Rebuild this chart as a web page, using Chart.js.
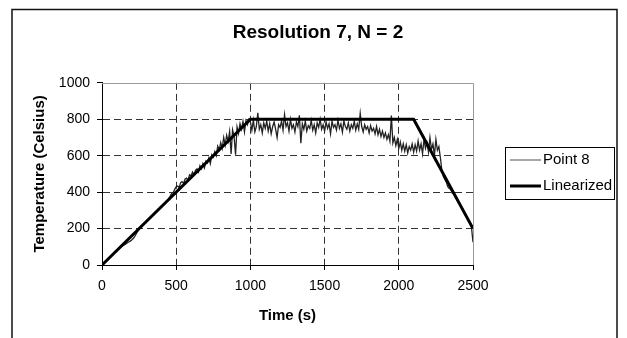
<!DOCTYPE html>
<html>
<head>
<meta charset="utf-8">
<script src="https://cdn.jsdelivr.net/npm/chart.js@4.4.1/dist/chart.umd.min.js"></script>
<style>
  html, body { margin: 0; padding: 0; background: #fff; overflow: hidden; }
  #wrap { width: 627px; height: 338px; }
</style>
</head>
<body>
<div id="wrap"><canvas id="tempChart" width="627" height="338"></canvas></div>
<script>
// ------------------------------------------------------------
// Resolution 7, N = 2 -- measured vs linearized temperature
// ------------------------------------------------------------

const chartTitle = 'Resolution 7, N = 2';
const xTitle = 'Time (s)';
const yTitle = 'Temperature (Celsius)';
const seriesNames = ['Point 8', 'Linearized'];

// x / y axis ticks
const xTickRange = [0, 2500];
const xTickStep = 500;
const yTickRange = [0, 1000];
const yTickStep = 200;

const point8Times = [
    0, 10, 20, 30, 40, 50, 60, 70, 80, 90,
    100, 110, 120, 130, 140, 150, 160, 170, 180, 190,
    200, 210, 220, 230, 240, 250, 260, 270, 280, 290,
    300, 310, 320, 330, 340, 350, 360, 370, 380, 390,
    400, 410, 420, 430, 440, 450, 460, 470, 480, 490,
    500, 510, 520, 530, 540, 550, 560, 570, 580, 590,
    600, 610, 620, 630, 640, 650, 660, 670, 680, 690,
    700, 710, 720, 730, 740, 750, 760, 770, 780, 790,
    800, 810, 820, 830, 840, 850, 860, 870, 880, 890,
    900, 910, 920, 930, 940, 950, 960, 970, 980, 990,
    1000, 1010, 1020, 1030, 1040, 1050, 1060, 1070, 1080, 1090,
    1100, 1110, 1120, 1130, 1140, 1150, 1160, 1170, 1180, 1190,
    1200, 1210, 1220, 1230, 1240, 1250, 1260, 1270, 1280, 1290,
    1300, 1310, 1320, 1330, 1340, 1350, 1360, 1370, 1380, 1390,
    1400, 1410, 1420, 1430, 1440, 1450, 1460, 1470, 1480, 1490,
    1500, 1510, 1520, 1530, 1540, 1550, 1560, 1570, 1580, 1590,
    1600, 1610, 1620, 1630, 1640, 1650, 1660, 1670, 1680, 1690,
    1700, 1710, 1720, 1730, 1740, 1750, 1760, 1770, 1780, 1790,
    1800, 1810, 1820, 1830, 1840, 1850, 1860, 1870, 1880, 1890,
    1900, 1910, 1920, 1930, 1940, 1950, 1960, 1970, 1980, 1990,
    2000, 2010, 2020, 2030, 2040, 2050, 2060, 2070, 2080, 2090,
    2100, 2110, 2120, 2130, 2140, 2150, 2160, 2170, 2180, 2190,
    2200, 2210, 2220, 2230, 2240, 2250, 2260, 2270, 2280, 2290,
    2300, 2310, 2320, 2330, 2340, 2350, 2360, 2370, 2380, 2390,
    2400, 2410, 2420, 2430, 2440, 2450, 2460, 2470, 2480, 2490,
    2500
];
const point8Temps = [
    0, 6, 15, 22, 30, 41, 47, 57, 63, 72,
    80, 86, 94, 100, 106, 110, 116, 121, 126, 131,
    137, 145, 156, 170, 185, 198, 210, 218, 225, 232,
    240, 247, 256, 263, 272, 279, 288, 296, 305, 311,
    322, 330, 335, 345, 352, 365, 378, 394, 398, 415,
    430, 433, 425, 452, 458, 448, 472, 477, 465, 495,
    490, 510, 496, 520, 528, 510, 545, 528, 556, 533,
    570, 560, 588, 556, 605, 592, 622, 600, 652, 632,
    672, 640, 700, 658, 712, 678, 732, 610, 742, 705,
    605, 758, 722, 776, 745, 788, 730, 792, 770, 800,
    785, 740, 795, 730, 760, 835, 745, 770, 725, 780,
    750, 790, 735, 775, 720, 760, 785, 745, 700, 770,
    755, 790, 740, 825, 760, 780, 735, 800, 750, 770,
    730, 785, 760, 822, 668, 775, 745, 790, 735, 765,
    750, 795, 740, 770, 725, 780, 755, 800, 745, 770,
    735, 785, 750, 775, 720, 790, 755, 770, 740, 795,
    750, 775, 730, 790, 760, 745, 780, 735, 770, 750,
    790, 740, 775, 745, 832, 760, 730, 770, 745, 760,
    725, 765, 735, 750, 720, 760, 715, 745, 705, 735,
    700, 725, 690, 715, 680, 820, 670, 700, 655, 690,
    640, 675, 630, 665, 625, 660, 615, 650, 630, 665,
    620, 660, 625, 680, 630, 665, 610, 690, 640, 670,
    620, 700, 635, 665, 600, 690, 630, 650, 590, 520,
    485, 470, 455, 430, 420, 415, 395, 392, 372, 362,
    345, 338, 318, 308, 288, 278, 258, 248, 228, 205,
    125
];

// Linearized profile
const linearTimes = [0, 1000, 2100, 2500];
const linearTemps = [0, 800, 800, 200];

Chart.defaults.font.family = "'Liberation Sans', Arial, sans-serif";
Chart.defaults.color = '#000';

// White page + outer frame, gray top/right plot border
const framePlugin = {
    id: 'frame',
    beforeDraw(chart) {
        const ctx = chart.ctx;
        ctx.save();
        ctx.fillStyle = '#fff';
        ctx.fillRect(0, 0, chart.width, chart.height);
        ctx.strokeStyle = '#111';
        ctx.lineWidth = 1.5;
        ctx.strokeRect(12, 9.5, 605, chart.height + 20);
        ctx.restore();
    },
    beforeDatasetsDraw(chart) {
        const { ctx, chartArea: a } = chart;
        ctx.save();
        ctx.strokeStyle = '#999';
        ctx.lineWidth = 1;
        ctx.beginPath();
        ctx.moveTo(a.left, Math.round(a.top) + 0.5);
        ctx.lineTo(Math.round(a.right) + 0.5, Math.round(a.top) + 0.5);
        ctx.lineTo(Math.round(a.right) + 0.5, a.bottom);
        ctx.stroke();
        ctx.restore();
    }
};

// Boxed legend on the right, like the spreadsheet one
const boxLegendPlugin = {
    id: 'boxLegend',
    afterDraw(chart, args, opts) {
        const ctx = chart.ctx;
        ctx.save();
        ctx.strokeStyle = '#000';
        ctx.lineWidth = 1;
        ctx.strokeRect(opts.x + 0.5, opts.y + 0.5, opts.w, opts.h);
        ctx.font = opts.fontSize + 'px ' + Chart.defaults.font.family;
        ctx.textBaseline = 'middle';
        ctx.fillStyle = '#000';
        opts.order.forEach((dsIndex, row) => {
            const ds = chart.data.datasets[dsIndex];
            const y = opts.y + opts.firstRow + row * opts.rowGap;
            ctx.strokeStyle = ds.legendColor || ds.borderColor;
            ctx.lineWidth = ds.borderWidth;
            ctx.beginPath();
            ctx.moveTo(opts.x + 5, y);
            ctx.lineTo(opts.x + 36, y);
            ctx.stroke();
            ctx.fillText(ds.label, opts.x + 38, y);
        });
        ctx.restore();
    }
};

const gridColor = '#333';

const ctx = document.getElementById('tempChart').getContext('2d');
new Chart(ctx, {
    type: 'line',
    data: {
        datasets: [{
            label: seriesNames[1],
            data: linearTimes.map((t, i) => ({ x: t, y: linearTemps[i] })),
            borderColor: '#000',
            borderWidth: 3,
            pointRadius: 0,
            fill: false,
            tension: 0,
            order: 0
        }, {
            label: seriesNames[0],
            data: point8Times.map((t, i) => ({ x: t, y: point8Temps[i] })),
            borderColor: '#222',
            legendColor: '#777',
            borderWidth: 1.3,
            pointRadius: 0,
            fill: false,
            tension: 0,
            order: 1
        }]
    },
    options: {
        responsive: false,
        animation: false,
        layout: { padding: { left: 12, right: 3, top: 0, bottom: 0 } },
        plugins: {
            legend: { display: false },
            tooltip: { enabled: false },
            title: {
                display: true,
                text: chartTitle,
                color: '#000',
                font: { size: 19, weight: 'bold' },
                padding: { top: 21, bottom: 39 }
            },
            boxLegend: { x: 505, y: 147, w: 109, h: 52, firstRow: 13, rowGap: 26, fontSize: 15, order: [1, 0] }
        },
        scales: {
            x: {
                type: 'linear',
                min: xTickRange[0],
                max: xTickRange[1],
                ticks: { stepSize: xTickStep, font: { size: 14 }, color: '#000', padding: 8, maxRotation: 0,
                         callback: (v) => String(v) },
                grid: {
                    color: (c) => c.tick && c.tick.value === xTickRange[1] ? 'rgba(0,0,0,0)' : gridColor,
                    tickColor: '#000',
                    tickLength: 5,
                    lineWidth: 1
                },
                border: { color: '#000', width: 1, dash: [7, 4] },
                title: {
                    display: true,
                    text: xTitle,
                    color: '#000',
                    font: { size: 15, weight: 'bold' },
                    padding: { top: 4, bottom: 13 }
                },
                afterFit: (scale) => { scale.height = 73; }
            },
            y: {
                type: 'linear',
                min: yTickRange[0],
                max: yTickRange[1],
                ticks: { stepSize: yTickStep, font: { size: 14 }, color: '#000', padding: 7,
                         callback: (v) => String(v) },
                grid: {
                    color: (c) => c.tick && c.tick.value === yTickRange[1] ? 'rgba(0,0,0,0)' : gridColor,
                    tickColor: '#000',
                    tickLength: 5,
                    lineWidth: 1
                },
                border: { color: '#000', width: 1, dash: [7, 4] },
                title: {
                    display: true,
                    text: yTitle,
                    color: '#000',
                    font: { size: 15, weight: 'bold' },
                    padding: { top: 19, bottom: 4 }
                },
                afterFit: (scale) => { scale.width = 90; }
            },
            // empty axis that only reserves room for the boxed legend
            legendRoom: {
                type: 'linear',
                position: 'right',
                display: true,
                ticks: { display: false },
                grid: { display: false },
                border: { display: false },
                afterFit: (scale) => { scale.width = 151; }
            }
        }
    },
    plugins: [framePlugin, boxLegendPlugin]
});
</script>
</body>
</html>
